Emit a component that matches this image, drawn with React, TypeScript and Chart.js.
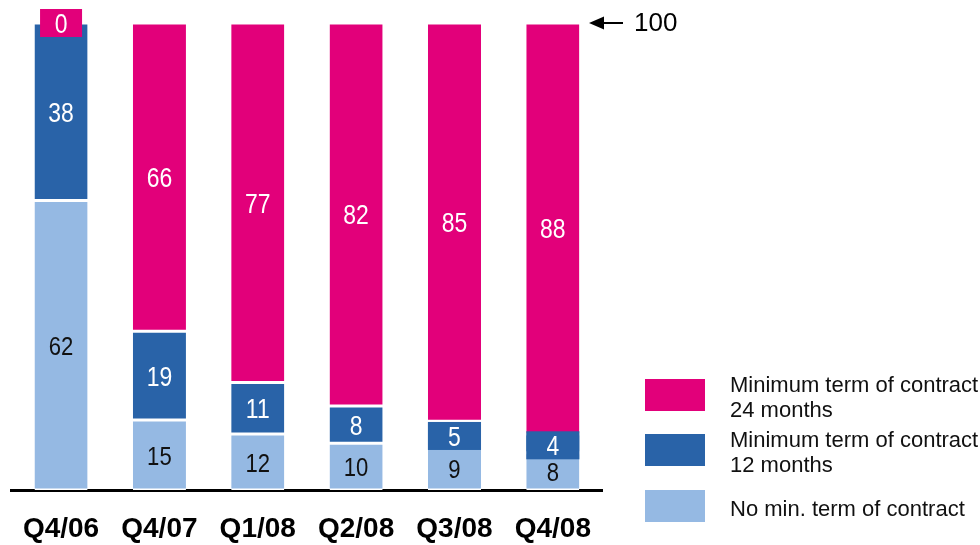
import { useEffect, useRef } from 'react';
import { Chart, registerables } from 'chart.js';

Chart.register(...registerables);

const categories = ['Q4/06', 'Q4/07', 'Q1/08', 'Q2/08', 'Q3/08', 'Q4/08'];
const noMinTerm = [62, 15, 12, 10, 9.3, 8];
const min12Months = [38, 19, 11, 8, 5.4, 4];
const min24Months = [0, 66, 77, 82, 85.3, 88];
const seriesLabels = [
  'No min. term of contract',
  'Minimum term of contract\n12 months',
  'Minimum term of contract\n24 months',
];
const seriesColors = ['#95B9E3', '#2963A8', '#E2007A'];
const labelColors = ['#111111', '#FFFFFF', '#FFFFFF'];
const yMax = 100;
const refLabel = '100';

const SANS = '"Liberation Sans", Arial, sans-serif';

const valueLabelsPlugin = {
  id: 'valueLabels',
  afterDatasetsDraw(chart: any) {
    const ctx = chart.ctx;
    ctx.save();
    chart.data.datasets.forEach((ds: any, di: number) => {
      const meta = chart.getDatasetMeta(di);
      meta.data.forEach((bar: any, i: number) => {
        const v = ds.data[i];
        const { x, y, base, width } = bar.getProps(['x', 'y', 'base', 'width'], true);
        const h = Math.abs(base - y);
        const cy = (y + base) / 2;
        const txt = String(Math.round(v));
        const white = labelColors[di] === '#FFFFFF';
        let ty = cy;
        if (h < 26) {
          const bw = v === 0 ? 42 : width;
          const bh = 28;
          const by = v === 0 ? cy : cy + 2;
          ctx.fillStyle = ds.backgroundColor;
          ctx.fillRect(x - bw / 2, by - bh / 2, bw, bh);
          ty = by;
        }
        ctx.save();
        ctx.font = `${white ? 27 : 26}px ${SANS}`;
        ctx.fillStyle = labelColors[di];
        ctx.textAlign = 'center';
        ctx.textBaseline = 'middle';
        ctx.translate(x, ty + 2.5);
        ctx.scale(0.85, 1);
        ctx.fillText(txt, 0, 0);
        ctx.restore();
      });
    });
    ctx.restore();
  },
};

const decorPlugin = {
  id: 'decor',
  afterDraw(chart: any) {
    const ctx = chart.ctx;
    const area = chart.chartArea;
    const yS = chart.scales.y;
    ctx.save();
    // reference arrow
    const ry = yS.getPixelForValue(yMax);
    const ax = area.right - 13;
    ctx.fillStyle = '#000';
    ctx.strokeStyle = '#000';
    ctx.beginPath();
    ctx.moveTo(ax, ry);
    ctx.lineTo(ax + 15, ry - 6.5);
    ctx.lineTo(ax + 15, ry + 6.5);
    ctx.closePath();
    ctx.fill();
    ctx.lineWidth = 2;
    ctx.beginPath();
    ctx.moveTo(ax + 12, ry);
    ctx.lineTo(ax + 34, ry);
    ctx.stroke();
    ctx.font = `26px ${SANS}`;
    ctx.textAlign = 'left';
    ctx.textBaseline = 'middle';
    ctx.fillText(refLabel, ax + 45, ry + 1);

    // legend
    const items = chart.data.datasets.map((d: any) => d).reverse();
    const boxX = 645;
    const boxTops = [379, 434, 490];
    ctx.font = `22px ${SANS}`;
    ctx.textBaseline = 'alphabetic';
    items.forEach((d: any, k: number) => {
      const top = boxTops[k];
      ctx.fillStyle = d.backgroundColor;
      ctx.fillRect(boxX, top, 60, 32);
      const lines = String(d.label).split('\n');
      ctx.fillStyle = '#111';
      const firstBase = lines.length > 1 ? top + 12.5 : top + 26;
      lines.forEach((ln: string, li: number) => {
        ctx.fillText(ln, 730, firstBase + li * 25);
      });
    });
    ctx.restore();
  },
};

export default function App() {
  const ref = useRef<HTMLCanvasElement | null>(null);
  useEffect(() => {
    if (!ref.current) return;
    const series = [noMinTerm, min12Months, min24Months];
    const chart = new Chart(ref.current, {
      type: 'bar',
      data: {
        labels: categories,
        datasets: series.map((s, i) => ({
          label: seriesLabels[i],
          data: s,
          backgroundColor: seriesColors[i],
          borderColor: '#FFFFFF',
          borderWidth: { top: 1.5, bottom: 1.5, left: 0, right: 0 },
          borderSkipped: false,
          barPercentage: 0.54,
          categoryPercentage: 1,
        })),
      },
      options: {
        responsive: false,
        animation: false,
        events: [],
        layout: { padding: { left: 11, right: 378, top: 23, bottom: 0 } },
        plugins: {
          legend: { display: false },
          tooltip: { enabled: false },
          title: { display: false },
        },
        scales: {
          x: {
            stacked: true,
            grid: { display: false, drawTicks: false },
            border: { display: true, color: '#000', width: 3 },
            ticks: {
              color: '#000',
              padding: 22,
              font: { family: SANS, size: 28, weight: 'bold' },
            },
            afterFit: (s: any) => {
              s.height = 55;
            },
          },
          y: {
            stacked: true,
            display: false,
            min: 0,
            max: yMax,
          },
        },
      },
      plugins: [valueLabelsPlugin, decorPlugin],
    } as any);
    return () => chart.destroy();
  }, []);
  return (
    <div style={{ position: 'absolute', left: 0, top: 0, width: 980, height: 545, background: '#fff' }}>
      <canvas ref={ref} width={980} height={545} />
    </div>
  );
}
